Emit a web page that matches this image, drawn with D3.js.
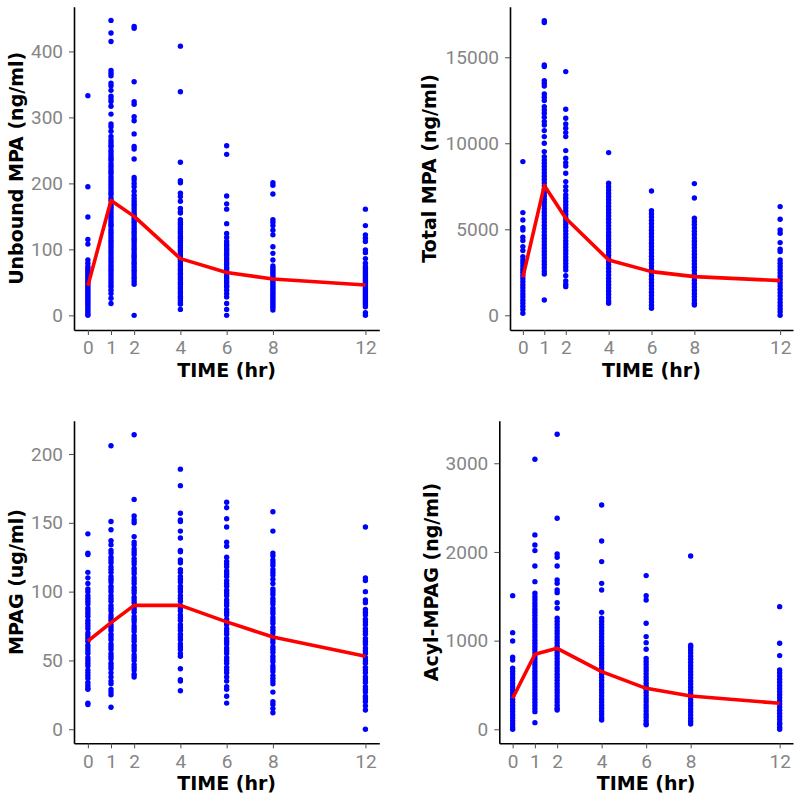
<!DOCTYPE html>
<html>
<head>
<meta charset="utf-8">
<script src="https://cdn.jsdelivr.net/npm/d3@7"></script>
<style>
  html, body { margin: 0; padding: 0; background: #fff; }
  svg { display: block; }
</style>
</head>
<body>
<svg id="chart" width="800" height="803"></svg>
<script>
// ---------- DATA ----------
const times = [0, 1, 2, 4, 6, 8, 12];

// Unbound MPA (ng/ml): one array of observations per time point
const unboundMPA = [
  [333,195,149,115,108,84,79,74,71,68,65,62,59,56,53,50,47,44,41,38,35,32,29,26,23,20,17,14,11,8,5,2,0],
  [447,428,415,371,367,363,352,348,341,332,328,324,317,305,290,286,279,271,266,262,258,255,250,246,242,238,235,230,226,222,218,215,210,206,202,198,194,190,186,183,178,174,168,165,162,158,154,150,146,142,138,135,130,126,122,118,114,110,106,102,98,94,90,86,82,78,74,70,66,62,58,54,50,46,43,38,33,26,18],
  [438,435,354,324,320,301,295,275,256,252,237,209,205,200,195,188,182,177,173,169,166,162,158,154,151,147,143,140,136,132,128,125,121,117,114,110,106,102,99,95,91,88,84,80,77,73,69,66,62,58,55,51,47,0],
  [408,339,232,204,201,185,180,173,162,157,155,145,141,138,134,131,127,124,120,117,113,110,106,103,99,96,92,89,85,82,78,75,71,68,64,61,57,54,50,47,43,40,36,33,29,26,22,19,17,9],
  [257,244,181,169,161,139,124,118,112,108,105,101,98,94,91,87,84,80,77,73,70,66,63,59,56,52,49,45,43,38,33,28,18,9,0],
  [201,197,184,145,141,136,129,122,104,94,84,75,72,69,66,63,60,57,54,51,48,45,42,39,36,33,30,27,24,21,18,15,12,8],
  [161,136,122,117,112,99,95,86,79,74,71,68,65,62,59,56,53,50,47,44,41,38,35,32,29,26,23,20,17,13,4,0]
];
const unboundMPAMean = [45, 174, 150, 86, 65, 55, 46];
const unboundTicks = [0, 100, 200, 300, 400];

// Total MPA (ng/ml)
const totalMPA = [
  [8934,5969,5543,5097,4961,4535,4341,3992,3760,3411,3217,3040,2860,2680,2500,2320,2140,1960,1780,1600,1420,1240,1060,880,700,520,340,116],
  [17130,17016,14554,14457,13643,13488,13333,12868,12674,12480,12132,11938,11744,11511,11260,11066,10736,10387,10000,9515,9225,9031,8837,8650,8460,8270,8080,7890,7700,7510,7320,7130,6940,6750,6560,6370,6180,5990,5800,5610,5420,5230,5040,4850,4660,4470,4280,4090,3900,3710,3520,3330,3140,2950,2760,2570,2400,891],
  [14167,11977,11453,11124,10872,10620,10387,9573,9128,8876,8682,8256,7771,7481,7248,6996,6810,6620,6430,6240,6050,5860,5670,5480,5290,5100,4910,4720,4530,4340,4150,3960,3770,3580,3390,3200,3010,2829,2635,2300,2000,1800,1666],
  [9457,7674,7480,7290,7100,6910,6720,6530,6340,6150,5960,5770,5580,5390,5200,5010,4820,4630,4440,4250,4060,3870,3680,3490,3300,3110,2920,2730,2540,2350,2160,1970,1780,1590,1400,1210,1020,830,697],
  [7229,6085,5900,5710,5520,5330,5140,4950,4760,4570,4380,4190,4000,3810,3620,3430,3240,3050,2860,2670,2480,2290,2100,1910,1720,1530,1340,1150,960,770,580,407],
  [7655,6822,5640,5450,5260,5070,4880,4690,4500,4310,4120,3930,3740,3550,3360,3170,2980,2790,2600,2410,2220,2030,1840,1650,1460,1270,1080,890,700,600],
  [6318,5581,4961,4767,4225,3837,3702,3217,3030,2840,2650,2460,2270,2080,1890,1700,1510,1320,1130,940,750,560,370,200,0]
];
const totalMPAMean = [2209, 7539, 5640, 3217, 2539, 2248, 2016];
const totalTicks = [0, 5000, 10000, 15000];

// MPAG (ug/ml)
const mpag = [
  [142,128,127,114,110,106,102,100,97,95,93,91,88,86,84,82,79,77,75,73,70,68,66,64,61,59,57,55,52,50,48,46,43,41,39,37,34,32,30,29,19,18],
  [206,151,145,137,134,130,128,125,123,121,118,116,114,111,109,107,104,102,100,97,95,93,90,88,86,83,81,79,76,74,72,69,67,65,62,60,58,55,53,51,48,46,44,41,38,35,33,29,27,25,16],
  [214,167,155,152,150,140,136,134,131,129,127,124,122,120,117,115,113,110,108,106,103,101,99,96,94,92,89,87,85,82,80,78,75,73,71,68,66,64,61,59,57,54,52,50,47,45,43,40,38],
  [189,177,157,152,151,144,139,130,129,123,121,116,114,111,109,107,104,102,100,97,95,93,90,88,86,83,81,79,76,74,72,69,67,65,62,60,58,55,53,44,36,35,28],
  [165,161,153,147,136,133,125,122,120,118,115,113,111,108,106,104,101,99,97,94,92,90,87,85,83,80,78,76,73,71,69,66,64,62,59,57,55,52,50,48,45,43,41,38,35,31,29,24,19],
  [158,144,128,126,123,121,119,116,114,112,109,106,102,100,98,95,93,91,88,86,84,81,79,77,74,72,70,67,65,63,60,58,56,53,51,49,46,44,42,39,37,35,33,27,20,18,15,12],
  [147,110,108,100,94,92,87,85,83,80,78,76,73,71,69,66,64,62,59,57,55,52,50,48,45,43,41,38,36,34,31,29,27,24,22,20,17,14,0]
];
const mpagMean = [64, 77.5, 90, 90, 78, 67, 53];
const mpagTicks = [0, 50, 100, 150, 200];

// Acyl-MPAG (ng/ml)
const acylMPAG = [
  [1507,1090,996,812,782,688,655,620,585,550,515,480,445,410,375,340,305,270,235,200,165,130,95,60,25,0],
  [3045,2192,2079,2015,1842,1665,1534,1496,1460,1425,1390,1355,1320,1285,1250,1215,1180,1145,1110,1075,1040,1005,970,935,900,865,830,795,760,725,690,655,620,585,550,515,480,445,410,375,340,305,270,235,199,75],
  [3327,2380,1977,1940,1842,1684,1646,1571,1541,1428,1365,1252,1217,1182,1147,1112,1077,1042,1007,972,937,902,867,832,797,762,727,692,657,622,587,552,517,482,447,412,377,342,307,272,237,218],
  [2530,2124,1891,1646,1571,1319,1252,1217,1182,1147,1112,1077,1042,1007,972,937,902,867,832,797,762,727,692,657,622,587,552,517,482,447,412,377,342,307,272,237,202,167,130,105],
  [1733,1507,1458,1195,1045,977,902,800,765,730,695,660,625,590,555,520,485,450,415,380,345,310,275,240,205,170,135,100,65,50],
  [1955,947,925,895,860,825,790,755,720,685,650,615,580,545,510,475,440,405,370,335,300,265,230,195,160,125,90,60],
  [1383,970,831,669,635,600,565,530,495,460,425,390,355,320,285,250,215,180,145,110,75,56,23,0]
];
const acylMPAGMean = [350, 846, 913, 650, 462, 376, 293];
const acylTicks = [0, 1000, 2000, 3000];

// ---------- LAYOUT ----------
const panels = [
  { vals: unboundMPA, mean: unboundMPAMean, ticks: unboundTicks, title: "Unbound MPA (ng/ml)",
    x0: 74, x1: 379.3, y0: 6.7, y1: 330, dom: [-22.2, 467.8], titleX: 22.5 },
  { vals: totalMPA, mean: totalMPAMean, ticks: totalTicks, title: "Total MPA (ng/ml)",
    x0: 510, x1: 793, y0: 6.7, y1: 330, dom: [-855, 17940], titleX: 436 },
  { vals: mpag, mean: mpagMean, ticks: mpagTicks, title: "MPAG (ug/ml)",
    x0: 74, x1: 379.3, y0: 420.7, y1: 743.3, dom: [-10.2, 224.2], titleX: 22.5 },
  { vals: acylMPAG, mean: acylMPAGMean, ticks: acylTicks, title: "Acyl-MPAG (ng/ml)",
    x0: 499.3, x1: 793, y0: 420.7, y1: 743.3, dom: [-158, 3480], titleX: 437.7 }
];

const svg = d3.select("#chart");
const tickFont = "Roboto, 'Liberation Sans', sans-serif";
const titleFont = "'DejaVu Sans', sans-serif";
const fmt = d3.format("d");

panels.forEach(p => {
  const g = svg.append("g");
  const x = d3.scaleLinear().domain([-0.6, 12.6]).range([p.x0, p.x1]);
  const y = d3.scaleLinear().domain(p.dom).range([p.y1, p.y0]);

  // points
  const pts = [];
  p.vals.forEach((arr, i) => arr.forEach(v => pts.push({ t: times[i], v })));
  g.append("g").selectAll("circle").data(pts).join("circle")
    .attr("cx", d => x(d.t)).attr("cy", d => y(d.v))
    .attr("r", 2.7).attr("fill", "#0000ff");

  // mean line
  const line = d3.line().x((d, i) => x(times[i])).y(d => y(d));
  g.append("path").datum(p.mean).attr("d", line)
    .attr("fill", "none").attr("stroke", "#ff0000").attr("stroke-width", 3.6)
    .attr("stroke-linejoin", "round");

  // axes
  const xa = g.append("g").attr("transform", `translate(0,${p.y1})`)
    .call(d3.axisBottom(x).tickValues(times).tickFormat(fmt).tickSize(5).tickPadding(6).tickSizeOuter(0));
  const ya = g.append("g").attr("transform", `translate(${p.x0},0)`)
    .call(d3.axisLeft(y).tickValues(p.ticks).tickFormat(fmt).tickSize(5).tickPadding(6).tickSizeOuter(0));
  [xa, ya].forEach(a => {
    a.select(".domain").attr("stroke", "#000").attr("stroke-width", 1.6);
    a.selectAll(".tick line").attr("stroke", "#4d4d4d").attr("stroke-width", 1);
    a.selectAll(".tick text").attr("fill", "#858585")
      .style("font-family", tickFont).style("font-size", "19px");
  });

  // titles
  g.append("text").attr("x", (p.x0 + p.x1) / 2).attr("y", p.y1 + 46.5)
    .attr("text-anchor", "middle").style("font-family", titleFont)
    .style("font-weight", "bold").style("font-size", "19px").attr("fill", "#000")
    .text("TIME (hr)");
  g.append("text").attr("transform", `translate(${p.titleX},${(p.y0 + p.y1) / 2}) rotate(-90)`)
    .attr("text-anchor", "middle").style("font-family", titleFont)
    .style("font-weight", "bold").style("font-size", "19px").attr("fill", "#000")
    .text(p.title);
});
</script>
</body>
</html>
